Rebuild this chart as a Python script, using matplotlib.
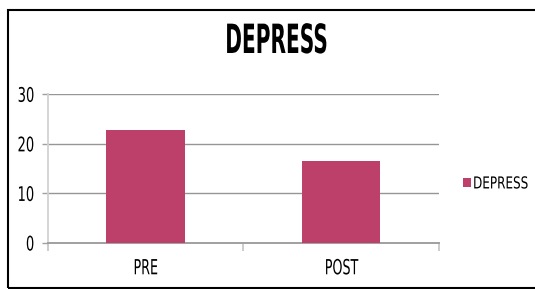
import matplotlib
matplotlib.use("Agg")
import matplotlib.pyplot as plt
from matplotlib.patches import Rectangle
from matplotlib.patheffects import AbstractPathEffect
from matplotlib.transforms import Affine2D

categories = ["PRE", "POST"]
values = [22.8, 16.5]
series_name = "DEPRESS"
title = "DEPRESS"
yticks = [0, 10, 20, 30]


class Squeeze(AbstractPathEffect):
    """Rescale text glyphs (the reference uses a tall, condensed face)."""
    def __init__(self, sx, sy=1.0, anchor="center"):
        super().__init__()
        self.sx = sx
        self.sy = sy
        self.anchor = anchor

    def draw_path(self, renderer, gc, tpath, affine, rgbFace=None):
        bb = affine.transform_path(tpath).get_extents()
        if self.anchor == "left":
            cx = bb.x0
        elif self.anchor == "right":
            cx = bb.x1
        else:
            cx = 0.5 * (bb.x0 + bb.x1)
        cy = 0.5 * (bb.y0 + bb.y1)
        aff = affine + Affine2D().translate(-cx, -cy).scale(self.sx, self.sy).translate(cx, cy)
        renderer.draw_path(gc, tpath, aff, rgbFace)


plt.rcParams['font.family'] = ['DejaVu Sans']

fig = plt.figure(figsize=(5.35, 2.89), dpi=100)
W, H = 535, 289
ax = fig.add_axes([47.7 / W, 46 / H, (439 - 47.7) / W, (243 - 94.3) / H])

x = list(range(len(categories)))
ax.bar(x, values, width=0.4, color="#BC4069", label=series_name, zorder=3)
ax.set_xlim(-0.5, len(categories) - 0.5)
ax.set_ylim(0, 30)
ax.set_yticks(yticks)
ax.set_yticklabels([str(t) for t in yticks], fontsize=14.5)
ax.yaxis.grid(True, color="#969696", linewidth=1.0, zorder=0)
ax.tick_params(axis='y', length=4.3, width=1.0, color="#a0a0a0", pad=5)

ax.set_xticks([i - 0.5 for i in range(len(categories) + 1)])
ax.set_xticklabels([])
ax.set_xticks(x, minor=True)
ax.set_xticklabels(categories, minor=True, fontsize=15)
ax.tick_params(axis='x', which='major', length=5.8, width=1.2, color="#c4c4c4")
ax.tick_params(axis='x', which='minor', length=0, pad=11)

for s in ["top", "right"]:
    ax.spines[s].set_visible(False)
ax.spines["left"].set_color("#d2d2d2")
ax.spines["left"].set_linewidth(1.3)
ax.spines["bottom"].set_color("#a0a0a0")
ax.spines["bottom"].set_linewidth(1.4)

t = fig.text(276.5 / W, 1 - 42 / H, title, ha="center", va="center", fontsize=29,
             fontweight="bold")
t.set_path_effects([Squeeze(0.50)])

leg = fig.legend(loc="center left", bbox_to_anchor=(463 / W, 1 - 183.5 / H), frameon=False,
                 fontsize=9, borderpad=0, borderaxespad=0,
                 handlelength=0.64, handleheight=0.8, handletextpad=0.16)
for lt in leg.get_texts():
    lt.set_path_effects([Squeeze(0.96, 1.32, "left")])

for lbl in ax.get_yticklabels():
    lbl.set_path_effects([Squeeze(0.65, 1.0, "right")])
for lbl in ax.get_xticklabels(minor=True):
    lbl.set_path_effects([Squeeze(0.61)])

fig.patches.append(Rectangle((8 / W, 1 / H), (545 - 8) / W, (279.5 - 1) / H,
                             transform=fig.transFigure, fill=False, edgecolor="black",
                             linewidth=1.5))

fig.savefig("out.png", dpi=100)
